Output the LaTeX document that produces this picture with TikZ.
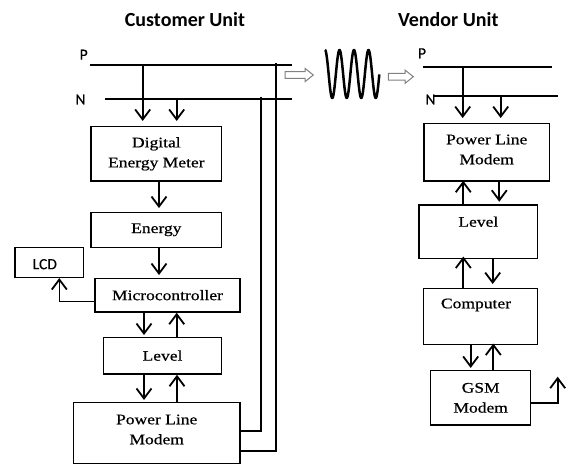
\documentclass[tikz,border=0pt]{standalone}
\usepackage{fontspec}
\setmainfont{Liberation Serif}[FakeStretch=1.2, FakeBold=0.6]
\newfontfamily\calfont{Carlito}[FakeBold=0.4]
\newfontfamily\calbold{Carlito Bold}
\usetikzlibrary{arrows.meta}

\begin{document}
\begin{tikzpicture}[x=1pt,y=-1pt,
  box/.style={draw, line width=1.5pt, inner sep=0pt, align=center,
    font=\fontsize{14.6}{20}\selectfont},
  txt/.style={inner sep=0pt, align=center, font=\fontsize{14.6}{20}\selectfont},
  wire/.style={line width=1.8pt},
  flow/.style={line width=1.8pt, -{Straight Barb[length=10pt,width=15pt]}},
  heading/.style={inner sep=0pt, font=\calbold\fontsize{20}{22}\selectfont},
  tag/.style={inner sep=0pt, font=\calfont\fontsize{15.5}{17}\selectfont},
  hollow/.style={draw=gray, line width=1pt, fill=white, line join=miter},
]
\useasboundingbox (0,0) rectangle (571,464);

% headings
\node[heading] (cu) at (185,20) {Customer Unit};
\node[heading] (vu) at (448.3,20) {Vendor Unit};

% ---------- customer unit ----------
\node[tag] (cP) at (83.7,54.7) {P};
\node[tag] (cN) at (80.5,99.5) {N};
\coordinate (cPa) at (90,65.3);
\coordinate (cPb) at (292,65.3);
\coordinate (cNa) at (105,99.3);
\coordinate (cNb) at (292,99.3);
\draw[wire] (cPa) -- (cPb);
\draw[wire] (cNa) -- (cNb);

\node[box, minimum width=130.7pt, minimum height=54.3pt] (dem) at (156.35,153.85) {Digital\\Energy Meter};
\node[box, minimum width=130.7pt, minimum height=35pt] (energy) at (156.35,229.8) {Energy};
\node[draw, line width=1.5pt, inner sep=0pt, minimum width=68.3pt, minimum height=29.6pt] (lcd) at (49.15,262.5) {};
\node[tag] (lcdtxt) at (44.8,264.2) {LCD};
\node[box, minimum width=145pt, minimum height=33.7pt] (micro) at (167.5,295.15) {Microcontroller};
\node[box, minimum width=118.4pt, minimum height=36.7pt] (llevel) at (162.5,355.65) {Level};
\node[draw, line width=1.5pt, inner sep=0pt, minimum width=166.7pt, minimum height=60.8pt] (lplm) at (156.65,433.1) {};
\node[txt] (lplmtxt) at (156.7,429.5) {Power Line\\Modem};

% taps from the mains into the meter
\coordinate (tapP) at (142.7,65.3);
\coordinate (tapN) at (176.7,99.3);
\draw[flow, shorten >=5pt] (tapP) -- (tapP |- dem.north);
\draw[flow, shorten >=5pt] (tapN) -- (tapN |- dem.north);

\draw[flow, shorten >=3.5pt] (dem.south -| 159,0) -- (energy.north -| 159,0);
\draw[flow, shorten >=2.5pt] (energy.south -| 159,0) -- (micro.north -| 159,0);
\draw[line width=1.2pt, -{Straight Barb[length=10pt,width=15pt,line width=1.8pt]}]
  (micro.west |- 0,301.7) -| (59.3,0 |- lcd.south);
\draw[flow, shorten >=1.5pt] (micro.south -| 144,0) -- (llevel.north -| 144,0);
\draw[flow] (llevel.north -| 176.7,0) -- (micro.south -| 176.7,0);
\draw[flow, shorten >=2pt] (llevel.south -| 144,0) -- (lplm.north -| 144,0);
\draw[flow] (lplm.north -| 177,0) -- (llevel.south -| 177,0);

% modem coupling back onto the mains
\coordinate (modN) at (260.7,96.7);
\coordinate (modP) at (276,63);
\draw[wire] (modN) |- (lplm.east |- 0,431);
\draw[wire] (modP) |- (lplm.east |- 0,451);

% ---------- transmission ----------
\draw[hollow] (285,71.7) -- (305,71.7) -- (305,68.3) -- (313.3,75) -- (305,81.7)
  -- (305,78.3) -- (285,78.3) -- cycle;
\draw[line width=2.5pt, line join=round]
  plot[domain=0:3.75, samples=200, smooth] ({325+14.5*\x},{74-24*cos(360*\x)});
\draw[hollow] (388.3,73.4) -- (405,73.4) -- (405,70) -- (413.3,76.7) -- (405,83.4)
  -- (405,80) -- (388.3,80) -- cycle;

% ---------- vendor unit ----------
\node[tag] (vP) at (422,53.3) {P};
\node[tag] (vN) at (430.5,99.5) {N};
\coordinate (vPa) at (423,66.7);
\coordinate (vPb) at (552,66.7);
\coordinate (vNa) at (433,96);
\coordinate (vNb) at (558,96);
\draw[wire] (vPa) -- (vPb);
\draw[wire] (vNa) -- (vNb);

\node[draw, line width=1.5pt, inner sep=0pt, minimum width=125.3pt, minimum height=57.7pt] (vplm) at (486.65,152.15) {};
\node[txt] (vplmtxt) at (486.7,149.5) {Power Line\\Modem};
\node[draw, line width=1.5pt, inner sep=0pt, minimum width=118.3pt, minimum height=53.3pt] (vlevel) at (478.15,231.65) {};
\node[txt] (vleveltxt) at (478.3,221.7) {Level};
\node[draw, line width=1.5pt, inner sep=0pt, minimum width=114pt, minimum height=56pt] (comp) at (480.3,316.3) {};
\node[txt] (comptxt) at (476,305) {Computer};
\node[box, minimum width=100pt, minimum height=54.3pt] (gsm) at (480.7,397.85) {GSM\\Modem};

\coordinate (vtapP) at (462.7,66.7);
\coordinate (vtapN) at (500.7,96);
\draw[flow, shorten >=4.5pt] (vtapP) -- (vtapP |- vplm.north);
\draw[flow, shorten >=4.5pt] (vtapN) -- (vtapN |- vplm.north);

\draw[flow, shorten >=-1pt] (vlevel.north -| 463.3,0) -- (vplm.south -| 463.3,0);
\draw[flow, shorten >=2.5pt] (vplm.south -| 499.3,0) -- (vlevel.north -| 499.3,0);
\draw[flow, shorten >=-2.5pt] (comp.north -| 463.3,0) -- (vlevel.south -| 463.3,0);
\draw[flow, shorten >=3.5pt] (vlevel.south -| 492.7,0) -- (comp.north -| 492.7,0);
\draw[flow, shorten >=2pt] (comp.south -| 470.7,0) -- (gsm.north -| 470.7,0);
\draw[flow, shorten >=-1.5pt] (gsm.north -| 493.3,0) -- (comp.south -| 493.3,0);

\coordinate (gsmOut) at (557.7,376.7);
\draw[flow] (gsm.east |- 0,402.7) -| (gsmOut);
\end{tikzpicture}
\end{document}
